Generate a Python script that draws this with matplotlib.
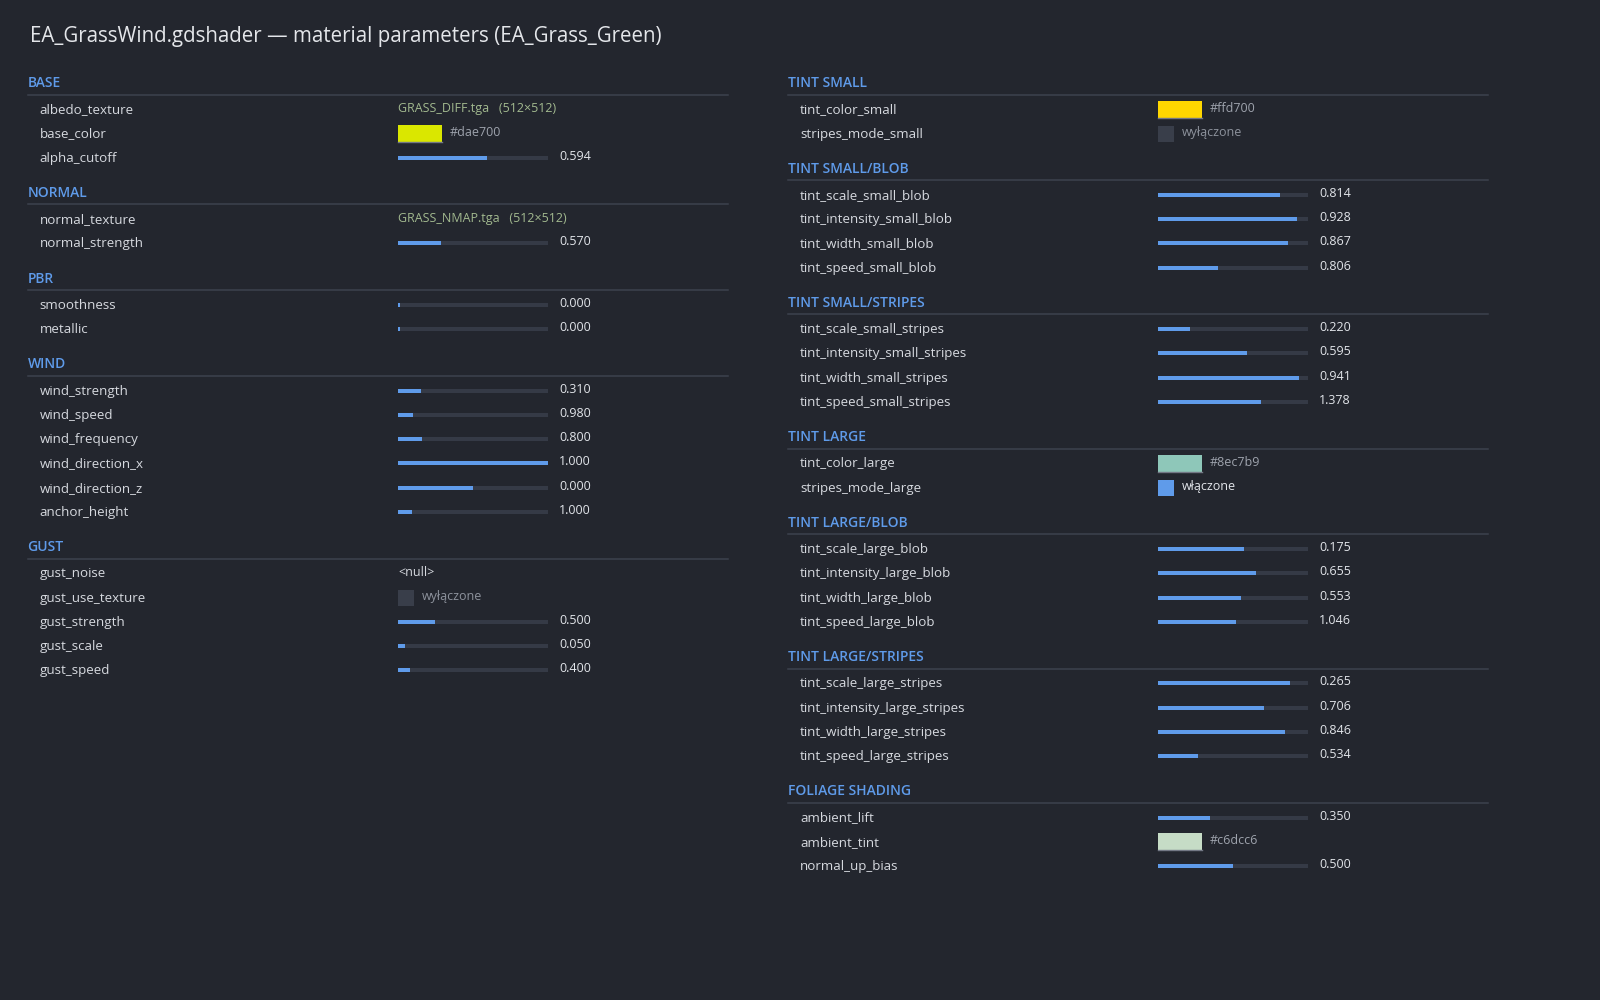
import matplotlib
matplotlib.use("Agg")
import matplotlib.pyplot as plt

plt.rcParams['font.family'] = ['Open Sans', 'DejaVu Sans']

title = "EA_GrassWind.gdshader \u2014 material parameters (EA_Grass_Green)"

# each row: (name, kind, value, fill fraction of the slider track)
base_rows = [
    ("albedo_texture", "tex", "GRASS_DIFF.tga", "(512\u00d7512)"),
    ("base_color", "color", "#dae700", None),
    ("alpha_cutoff", "slider", 0.594, 0.595),
]
normal_rows = [
    ("normal_texture", "tex", "GRASS_NMAP.tga", "(512\u00d7512)"),
    ("normal_strength", "slider", 0.570, 0.285),
]
pbr_rows = [
    ("smoothness", "slider", 0.000, 0.0),
    ("metallic", "slider", 0.000, 0.0),
]
wind_rows = [
    ("wind_strength", "slider", 0.310, 0.153),
    ("wind_speed", "slider", 0.980, 0.098),
    ("wind_frequency", "slider", 0.800, 0.160),
    ("wind_direction_x", "slider", 1.000, 1.0),
    ("wind_direction_z", "slider", 0.000, 0.5),
    ("anchor_height", "slider", 1.000, 0.092),
]
gust_rows = [
    ("gust_noise", "null", None, None),
    ("gust_use_texture", "bool", False, None),
    ("gust_strength", "slider", 0.500, 0.245),
    ("gust_scale", "slider", 0.050, 0.046),
    ("gust_speed", "slider", 0.400, 0.080),
]
tint_small_rows = [
    ("tint_color_small", "color", "#ffd700", None),
    ("stripes_mode_small", "bool", False, None),
]
tint_small_blob_rows = [
    ("tint_scale_small_blob", "slider", 0.814, 0.813),
    ("tint_intensity_small_blob", "slider", 0.928, 0.926),
    ("tint_width_small_blob", "slider", 0.867, 0.868),
    ("tint_speed_small_blob", "slider", 0.806, 0.399),
]
tint_small_stripes_rows = [
    ("tint_scale_small_stripes", "slider", 0.220, 0.212),
    ("tint_intensity_small_stripes", "slider", 0.595, 0.595),
    ("tint_width_small_stripes", "slider", 0.941, 0.942),
    ("tint_speed_small_stripes", "slider", 1.378, 0.687),
]
tint_large_rows = [
    ("tint_color_large", "color", "#8ec7b9", None),
    ("stripes_mode_large", "bool", True, None),
]
tint_large_blob_rows = [
    ("tint_scale_large_blob", "slider", 0.175, 0.574),
    ("tint_intensity_large_blob", "slider", 0.655, 0.653),
    ("tint_width_large_blob", "slider", 0.553, 0.555),
    ("tint_speed_large_blob", "slider", 1.046, 0.521),
]
tint_large_stripes_rows = [
    ("tint_scale_large_stripes", "slider", 0.265, 0.880),
    ("tint_intensity_large_stripes", "slider", 0.706, 0.709),
    ("tint_width_large_stripes", "slider", 0.846, 0.847),
    ("tint_speed_large_stripes", "slider", 0.534, 0.267),
]
foliage_rows = [
    ("ambient_lift", "slider", 0.350, 0.347),
    ("ambient_tint", "color", "#c6dcc6", None),
    ("normal_up_bias", "slider", 0.500, 0.500),
]

left_sections = [("BASE", base_rows), ("NORMAL", normal_rows), ("PBR", pbr_rows),
                 ("WIND", wind_rows), ("GUST", gust_rows)]
right_sections = [("TINT SMALL", tint_small_rows), ("TINT SMALL/BLOB", tint_small_blob_rows),
                  ("TINT SMALL/STRIPES", tint_small_stripes_rows), ("TINT LARGE", tint_large_rows),
                  ("TINT LARGE/BLOB", tint_large_blob_rows),
                  ("TINT LARGE/STRIPES", tint_large_stripes_rows), ("FOLIAGE SHADING", foliage_rows)]

BG = "#23262e"
HEAD = "#5f9bea"
LABEL = "#d6d9df"
VALUE = "#e2e5ea"
MUTED = "#9ea3ad"
RULE = "#3d424e"
TRACK = "#353a46"
FILL = "#5f9bea"
TEX = "#a2b98f"

fig = plt.figure(figsize=(16, 10), dpi=100, facecolor=BG)
ax = fig.add_axes([0, 0, 1, 1])
ax.set_facecolor(BG)
ax.set_xlim(0, 1600)
ax.set_ylim(1000, 0)
ax.axis('off')

ax.text(30, 36.5, title, fontsize=14.8, color="#e4e6ea", va='center', ha='left')

ROW = 24.23
HEAD_TO_ROW = 26.3
ROW_TO_HEAD = 35.2
BAR_W = 150


def draw_column(sections, x_head, x_label, x_widget, x_end):
    y = 83
    for head, rows in sections:
        ax.text(x_head, y, head, fontsize=10, fontweight='semibold', color=HEAD,
                va='center', ha='left')
        ax.plot([x_head, x_end], [y + 11.5, y + 11.5], color=RULE, lw=1.1)
        y += HEAD_TO_ROW
        for name, kind, val, extra in rows:
            ax.text(x_label, y + 0.5, name, fontsize=9.6, color=LABEL, va='center', ha='left')
            if kind == "slider":
                ax.barh(y, BAR_W, left=x_widget, height=4, color=TRACK)
                ax.barh(y, max(extra * BAR_W, 2), left=x_widget, height=4, color=FILL)
                ax.text(x_widget + BAR_W + 11, y - 1.5, f"{val:.3f}", fontsize=9,
                        color=VALUE, va='center', ha='left')
            elif kind == "color":
                ax.barh(y, 44, left=x_widget, height=17, color=val)
                ax.plot([x_widget, x_widget + 44], [y + 8.5, y + 8.5], color="#737885", lw=1)
                ax.text(x_widget + 52, y - 1, val, fontsize=9, color=MUTED,
                        va='center', ha='left')
            elif kind == "bool":
                ax.barh(y, 16, left=x_widget, height=16,
                        color=FILL if val else "#393e4a")
                ax.text(x_widget + 24, y - 1, "w\u0142\u0105czone" if val else "wy\u0142\u0105czone",
                        fontsize=9, color=VALUE if val else "#8d929c", va='center', ha='left')
            elif kind == "tex":
                ax.text(x_widget, y - 0.5, f"{val}   {extra}", fontsize=9, color=TEX,
                        va='center', ha='left')
            else:
                ax.text(x_widget, y - 0.5, "<null>", fontsize=9, color=LABEL,
                        va='center', ha='left')
            y += ROW
        y += ROW_TO_HEAD - ROW


draw_column(left_sections, 27.6, 39.8, 398, 727.6)
draw_column(right_sections, 787.8, 800, 1158, 1488)

fig.savefig("out.png", dpi=100, facecolor=BG)
